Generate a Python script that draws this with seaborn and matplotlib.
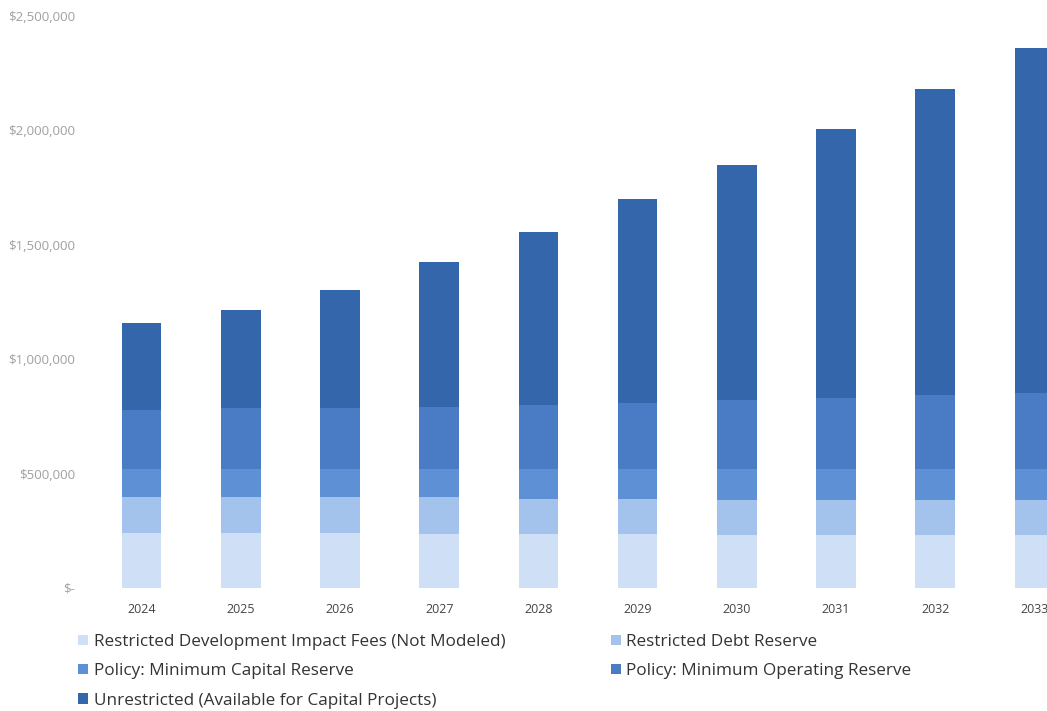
import numpy as np
import pandas as pd
import matplotlib
matplotlib.use("Agg")
import matplotlib.pyplot as plt
import seaborn as sns
from matplotlib.patches import Patch
from matplotlib.ticker import FuncFormatter


# Datos (valores en dólares)

years = ["2024", "2025", "2026", "2027", "2028",
         "2029", "2030", "2031", "2032", "2033"]

impact_fees = [240000, 240000, 240000, 238000, 236000,
               234000, 233000, 232000, 232000, 230000]
debt_reserve = [158000, 158000, 158000, 158000, 155000,
                153000, 152000, 153000, 153000, 153000]
capital_reserve = [124000, 124000, 122000, 124000, 127000,
                   131000, 135000, 135000, 137000, 139000]
operating_reserve = [256000, 265000, 267000, 271000, 282000,
                     290000, 302000, 310000, 321000, 330000]
unrestricted = [382000, 428000, 515000, 634000, 756000,
                892000, 1027000, 1176000, 1338000, 1508000]

labels = [
    "Restricted Development Impact Fees (Not Modeled)",
    "Restricted Debt Reserve",
    "Policy: Minimum Capital Reserve",
    "Policy: Minimum Operating Reserve",
    "Unrestricted (Available for Capital Projects)",
]

colores = ["#cfdff5", "#a3c3ed", "#5e90d6", "#4a7cc6", "#3466ab"]

df = pd.DataFrame({
    "year": years,
    labels[0]: impact_fees,
    labels[1]: debt_reserve,
    labels[2]: capital_reserve,
    labels[3]: operating_reserve,
    labels[4]: unrestricted,
})

# Sumas acumuladas para apilar
acumulado = df[labels].cumsum(axis=1)

# Figura

sns.set_style("white")
plt.rcParams["font.family"] = ["Open Sans", "DejaVu Sans"]

fig = plt.figure(figsize=(10.47, 7.11), dpi=100)
ax = fig.add_axes([0.0879, 0.173, 0.9475, 0.8045])

# Dibujar de arriba hacia abajo
for etiqueta, color in reversed(list(zip(labels, colores))):
    sns.barplot(
        x=df["year"],
        y=acumulado[etiqueta],
        color=color,
        width=0.4,
        saturation=1,
        linewidth=0,
        edgecolor=color,
        ax=ax,
    )

ax.set_xlim(-0.5, 9.5)
ax.set_ylim(0, 2500000)
ax.set_yticks(np.arange(0, 2500001, 500000))


def dinero(v, pos):
    if v == 0:
        return "$-"
    return f"${v:,.0f}"


ax.yaxis.set_major_formatter(FuncFormatter(dinero))
ax.tick_params(axis="y", labelsize=9.5, colors="#a0a0a0", length=0, pad=12)
ax.tick_params(axis="x", labelsize=9, colors="#444444", length=0, pad=11)
ax.set_xlabel("")
ax.set_ylabel("")
sns.despine(ax=ax, left=True, bottom=True)

# Leyenda

handles = [Patch(facecolor=c, edgecolor="none") for c in colores]
orden = [0, 2, 4, 1, 3]
fig.legend(
    [handles[i] for i in orden],
    [labels[i] for i in orden],
    ncol=2,
    loc="upper left",
    bbox_to_anchor=(0.06, 0.13),
    frameon=False,
    fontsize=12.3,
    handlelength=0.55,
    handleheight=0.55,
    handletextpad=0.35,
    labelspacing=0.78,
    columnspacing=6.2,
    labelcolor="#333333",
)

fig.savefig("out.png", dpi=100)
plt.close(fig)
